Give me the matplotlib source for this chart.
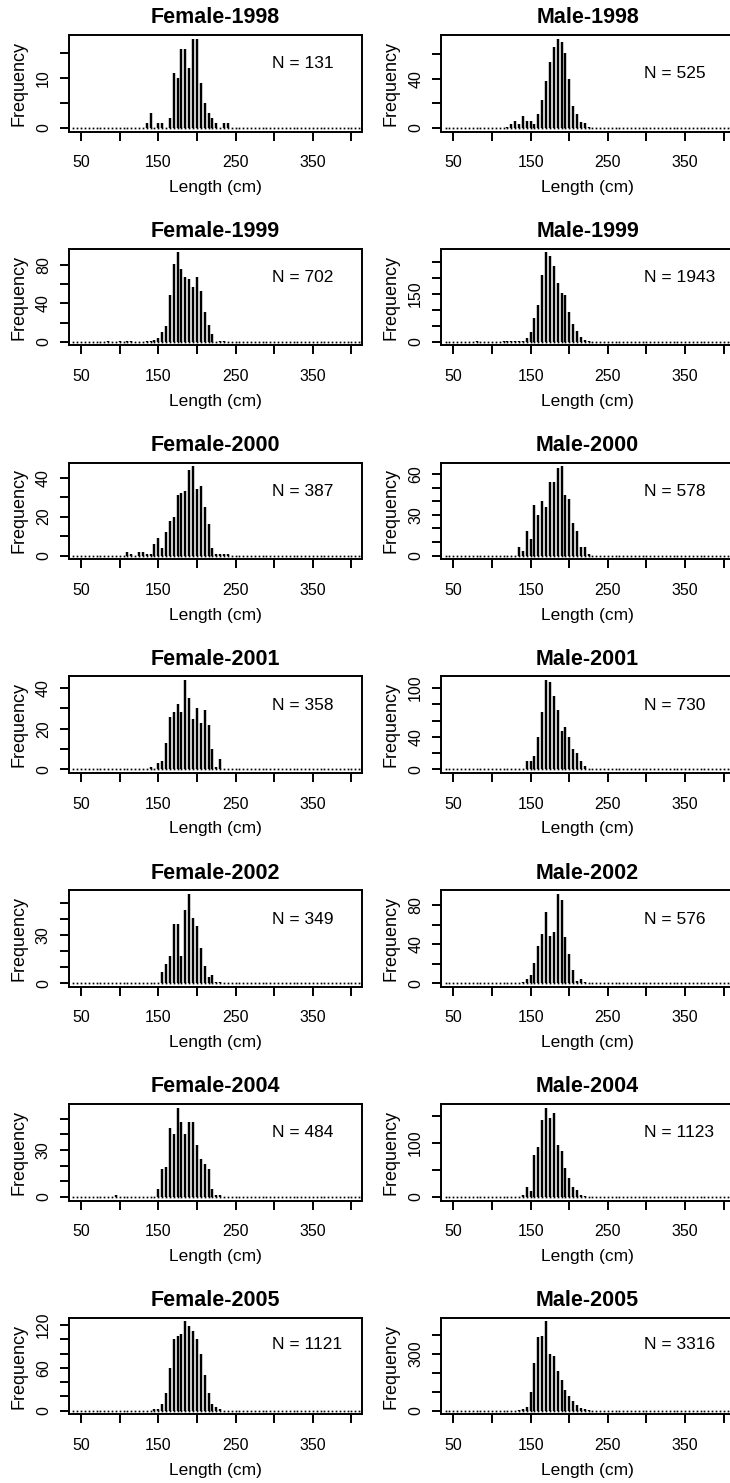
import matplotlib
matplotlib.use("Agg")
import matplotlib.pyplot as plt

plt.rcParams['font.family'] = ['Liberation Sans', 'DejaVu Sans']

# ---------------- data (5-cm length bins) ----------------
length_bins = list(range(40, 415, 5))

f1998_start = 135
f1998_counts = [1, 3, 0, 1, 1, 0, 2, 11, 10, 16, 16, 12, 18, 18, 9, 5, 3, 2, 1, 0, 1, 1]
m1998_start = 120
m1998_counts = [1, 3, 6, 3, 10, 6, 6, 3, 11, 23, 38, 54, 66, 73, 70, 61, 40, 18, 11, 5, 4, 1]

f1999_start = 85
f1999_counts = [1, 0, 0, 1, 0, 1, 1, 0, 0, 0, 1, 1, 2, 4, 10, 16, 49, 81, 93, 76, 67, 65,
                57, 67, 53, 31, 17, 8, 0, 1, 1]
m1999_start = 80
m1999_counts = [3, 0, 0, 0, 0, 0, 0, 2, 2, 2, 2, 3, 3, 13, 30, 74, 114, 210, 280, 268, 236,
                184, 152, 146, 94, 56, 34, 16, 5, 2]

f2000_start = 110
f2000_counts = [2, 1, 0, 2, 2, 1, 1, 6, 9, 4, 12, 18, 20, 31, 32, 33, 44, 46, 34, 36, 25, 16,
                4, 1, 1, 1, 1]
m2000_start = 135
m2000_counts = [6, 3, 18, 12, 37, 30, 40, 36, 54, 54, 65, 66, 45, 42, 24, 18, 6, 6, 1]

f2001_start = 140
f2001_counts = [1, 0, 3, 4, 13, 26, 28, 32, 28, 44, 35, 25, 30, 23, 29, 22, 10, 1, 5]
m2001_start = 140
m2001_counts = [1, 10, 10, 17, 40, 70, 110, 108, 90, 73, 47, 52, 40, 25, 20, 10, 4]

f2002_start = 155
f2002_counts = [7, 12, 17, 37, 37, 17, 46, 56, 41, 36, 22, 11, 4, 5, 1, 1]
m2002_start = 140
m2002_counts = [1, 4, 8, 21, 38, 51, 73, 49, 53, 92, 86, 48, 30, 14, 2, 4, 1]

f2004_start = 95
f2004_counts = [1, 0, 0, 0, 0, 0, 0, 0, 0, 0, 0, 5, 18, 19, 44, 40, 57, 48, 40, 48, 48, 33,
                24, 21, 18, 5, 1, 1]
m2004_start = 140
m2004_counts = [3, 19, 11, 77, 92, 143, 166, 146, 155, 96, 85, 54, 35, 19, 12, 4, 1]

f2005_start = 145
f2005_counts = [2, 3, 10, 25, 60, 100, 105, 108, 125, 118, 112, 100, 80, 50, 25, 10, 5, 2]
m2005_start = 135
m2005_counts = [3, 8, 20, 100, 250, 390, 395, 470, 300, 290, 210, 160, 110, 80, 50, 30, 15, 8, 3]

panel_titles = ["Female-1998", "Male-1998", "Female-1999", "Male-1999",
                "Female-2000", "Male-2000", "Female-2001", "Male-2001",
                "Female-2002", "Male-2002", "Female-2004", "Male-2004",
                "Female-2005", "Male-2005"]
panel_starts = [f1998_start, m1998_start, f1999_start, m1999_start, f2000_start, m2000_start,
                f2001_start, m2001_start, f2002_start, m2002_start, f2004_start, m2004_start,
                f2005_start, m2005_start]
panel_counts = [f1998_counts, m1998_counts, f1999_counts, m1999_counts, f2000_counts,
                m2000_counts, f2001_counts, m2001_counts, f2002_counts, m2002_counts,
                f2004_counts, m2004_counts, f2005_counts, m2005_counts]
panel_n = [131, 525, 702, 1943, 387, 578, 358, 730, 349, 576, 484, 1123, 1121, 3316]
panel_yticks = [[0, 5, 10, 15], [0, 20, 40, 60], [0, 20, 40, 60, 80],
                [0, 50, 100, 150, 200, 250], [0, 10, 20, 30, 40],
                [0, 10, 20, 30, 40, 50, 60], [0, 10, 20, 30, 40],
                [0, 20, 40, 60, 80, 100], [0, 10, 20, 30, 40, 50], [0, 20, 40, 60, 80],
                [0, 10, 20, 30, 40, 50], [0, 50, 100, 150],
                [0, 20, 40, 60, 80, 100, 120], [0, 100, 200, 300, 400]]
panel_ylabels = [[0, 10], [0, 40], [0, 40, 80], [0, 150], [0, 20, 40], [0, 30, 60],
                 [0, 20, 40], [0, 40, 100], [0, 30], [0, 40, 80], [0, 30], [0, 100],
                 [0, 60, 120], [0, 300]]
x_ticks = [50, 100, 150, 200, 250, 300, 350, 400]
x_ticklabels = ["50", "", "150", "", "250", "", "350", ""]
n_text_y = [0.70, 0.60, 0.70, 0.70, 0.70, 0.70, 0.70, 0.70, 0.70, 0.70, 0.70, 0.70,
            0.72, 0.72]

# ---------------- layout (pixels) ----------------
W, H = 730, 1483
fig = plt.figure(figsize=(W / 100, H / 100), dpi=100)
col_left = [69, 441.3]
ax_w, ax_h = 292.5, 96.5
top0, pitch = 35, 213.8

for i, title in enumerate(panel_titles):
    row, col = divmod(i, 2)
    top = top0 + row * pitch
    ax = fig.add_axes([col_left[col] / W, 1 - (top + ax_h) / H, ax_w / W, ax_h / H])
    start = panel_starts[i]
    counts = panel_counts[i]
    xs = [start + 5 * k for k in range(len(counts))]
    ymax = max(counts)

    # zero-level dots for every bin, then the frequency spikes
    ax.plot(length_bins, [0] * len(length_bins), linestyle='none', marker='s',
            markersize=1.25, markeredgewidth=0, color='black')
    ax.vlines(xs, 0, counts, colors='black', linewidth=1.75, capstyle='butt')

    ax.set_xlim(34.4, 413)
    ax.set_ylim(-0.04 * ymax, 1.04 * ymax)

    ax.set_xticks(x_ticks)
    ax.set_xticklabels(x_ticklabels)
    yt = panel_yticks[i]
    ax.set_yticks(yt)
    ax.set_yticklabels([str(v) if v in panel_ylabels[i] else "" for v in yt])

    ax.tick_params(axis='both', direction='out', length=6.5, width=1.4, color='black',
                   labelsize=11.5)
    ax.tick_params(axis='x', pad=10.5)
    ax.tick_params(axis='y', pad=6.5, labelrotation=90)
    for lab in ax.get_yticklabels():
        lab.set_va('center')

    for sp in ax.spines.values():
        sp.set_linewidth(1.4)
        sp.set_color('black')

    ax.set_xlabel("Length (cm)", fontsize=12.5)
    ax.xaxis.set_label_coords(0.5, -56 / ax_h)
    ax.xaxis.label.set_va('center')
    ax.set_ylabel("Frequency", fontsize=13)
    ax.yaxis.set_label_coords(-50 / ax_w, 0.5)
    ax.yaxis.label.set_va('center')

    ax.set_title(title, fontsize=15.5, fontweight='bold', y=1 + 17 / ax_h, va='center',
                 pad=0)
    ax.text(0.694, n_text_y[i], f"N = {panel_n[i]}", transform=ax.transAxes,
            ha='left', va='center', fontsize=12.5)

fig.savefig("out.png", dpi=100)
